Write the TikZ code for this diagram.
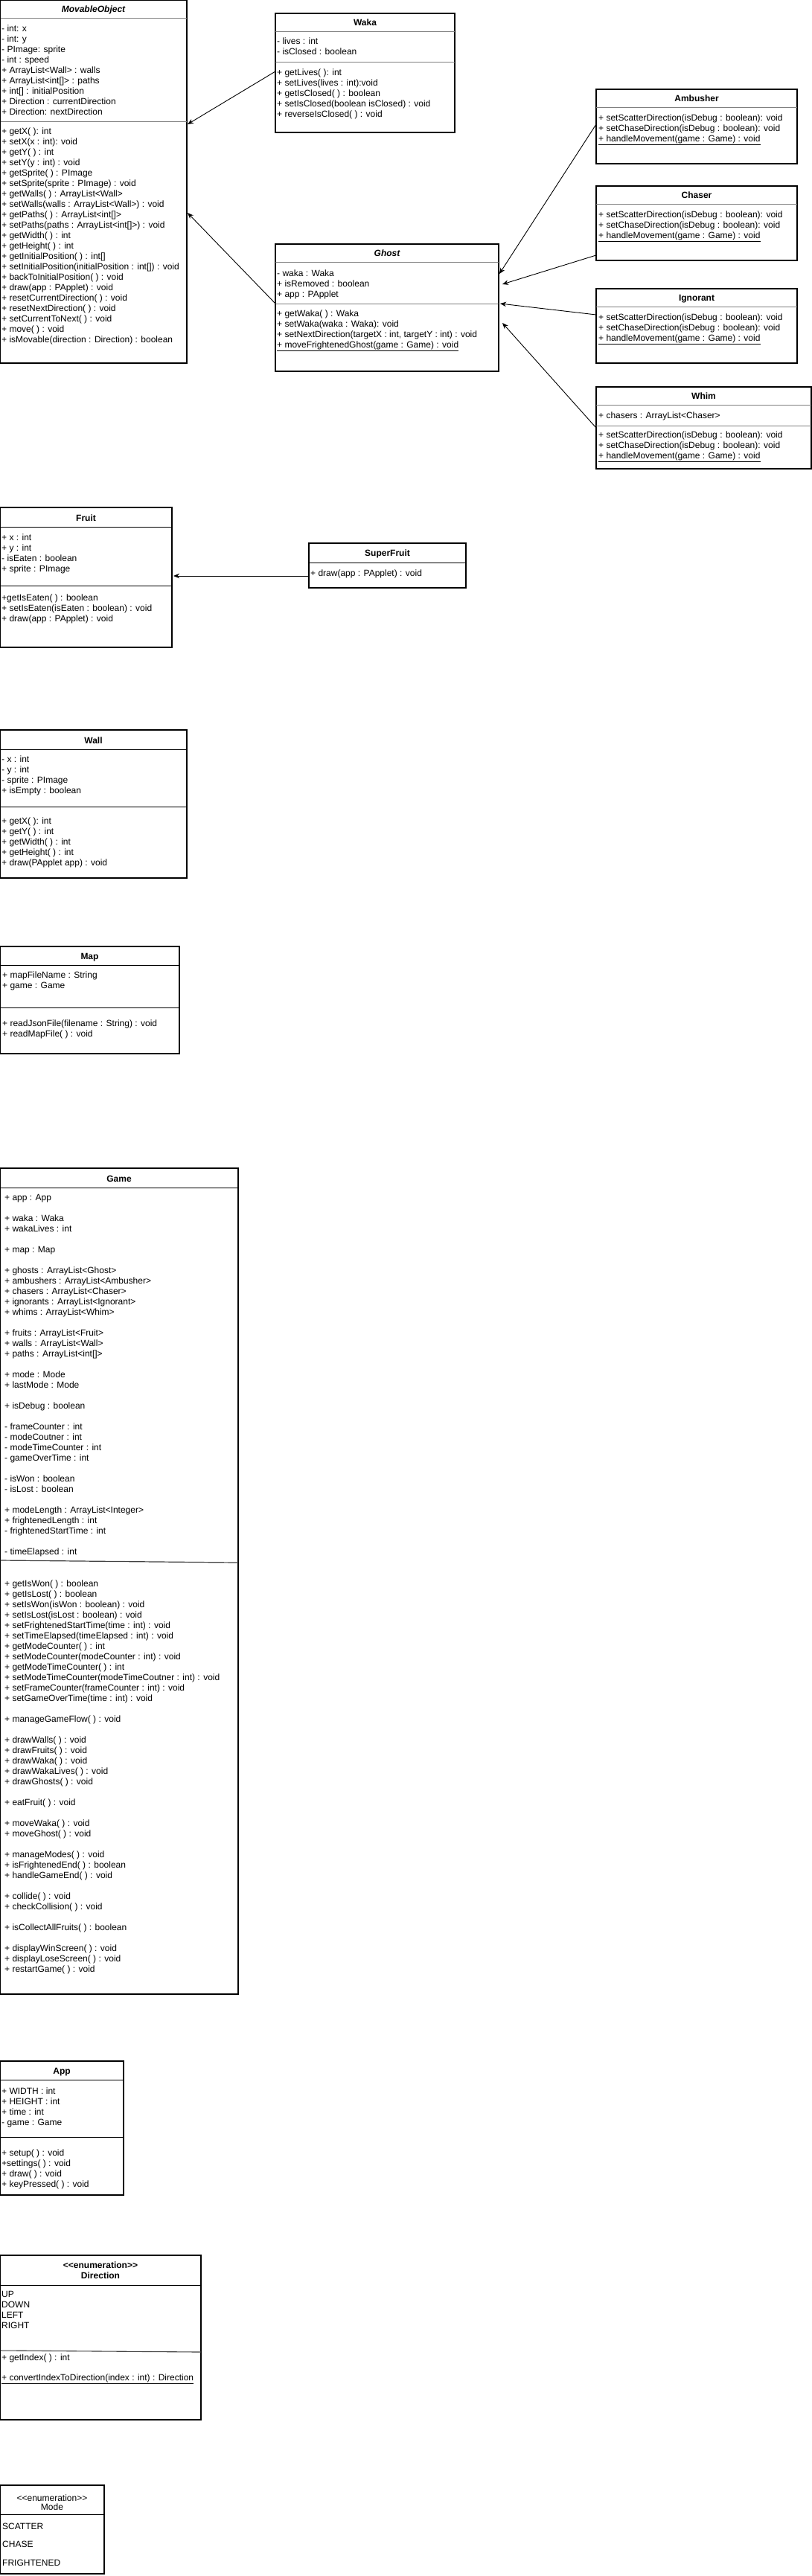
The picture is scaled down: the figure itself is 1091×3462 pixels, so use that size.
\documentclass[tikz,border=0pt]{standalone}
\usepackage{fontspec}
\setmainfont{Liberation Sans}
\usetikzlibrary{arrows.meta}
\newcommand\lnstrut{\rule{0pt}{11pt}}
\tikzset{
 cbox/.style={draw=black, line width=1.1pt, fill=white, anchor=north west, inner sep=0pt, outer sep=0pt},
 ttl/.style={anchor=base, inner sep=0pt, font=\fontsize{12}{14}\selectfont\upshape\bfseries},
 ttli/.style={anchor=base, inner sep=0pt, font=\fontsize{12}{14}\selectfont\bfseries\itshape},
 ttlr/.style={anchor=base, inner sep=0pt, font=\fontsize{12}{14}\selectfont\upshape\mdseries},
 txt/.style={anchor=north west, inner sep=0pt, align=left, font=\fontsize{12}{14}\selectfont\upshape\mdseries},
 divg/.style={draw=black!50, line width=1pt},
 divk/.style={draw=black, line width=1pt},
 arr/.style={draw=black, line width=0.9pt, -{Stealth[length=8pt,width=6.5pt]}},
}
\begin{document}
\begin{tikzpicture}[x=1pt,y=-1pt]
\fill[white] (0,0) rectangle (1091,3462);
\useasboundingbox (0,0) rectangle (1091,3462);

% ---------------- MovableObject
\node[cbox, minimum width=250.3pt, minimum height=487.3pt] (movable) at (0.7,0.7) {};
\draw[divg] (0.7,24) -- (251,24);
\draw[divg] (0.7,163) -- (251,163);
\node[ttli] (movable-t) at (125.5,16) {MovableObject};
\node[txt] (movable-a) at (2,31) {\lnstrut- int: x\\- int: y\\- PImage: sprite\\- int : speed\\+ ArrayList<Wall> : walls\\+ ArrayList<int[]> : paths\\+ int[] : initialPosition\\+ Direction : currentDirection\\+ Direction: nextDirection};
\node[txt] (movable-m) at (2,169) {\lnstrut+ getX( ): int\\+ setX(x : int): void\\+ getY( ) : int\\+ setY(y : int) : void\\+ getSprite( ) : PImage\\+ setSprite(sprite : PImage) : void\\+ getWalls( ) : ArrayList<Wall>\\+ setWalls(walls : ArrayList<Wall>) : void\\+ getPaths( ) : ArrayList<int[]>\\+ setPaths(paths : ArrayList<int[]>) : void\\+ getWidth( ) : int\\+ getHeight( ) : int\\+ getInitialPosition( ) : int[]\\+ setInitialPosition(initialPosition : int[]) : void\\+ backToInitialPosition( ) : void\\+ draw(app : PApplet) : void\\+ resetCurrentDirection( ) : void\\+ resetNextDirection( ) : void\\+ setCurrentToNext( ) : void\\+ move( ) : void\\+ isMovable(direction : Direction) : boolean};

% ---------------- Waka
\node[cbox, minimum width=241pt, minimum height=160pt] (waka) at (370,18) {};
\draw[divg] (370,42) -- (611,42);
\draw[divg] (370,83) -- (611,83);
\node[ttl] (waka-t) at (490.5,34) {Waka};
\node[txt] (waka-a) at (372,48) {\lnstrut- lives : int\\- isClosed : boolean};
\node[txt] (waka-m) at (372,90) {\lnstrut+ getLives( ): int\\+ setLives(lives : int):void\\+ getIsClosed( ) : boolean\\+ setIsClosed(boolean isClosed) : void\\+ reverseIsClosed( ) : void};

% ---------------- Ghost
\node[cbox, minimum width=300pt, minimum height=171pt] (ghost) at (370,328) {};
\draw[divg] (370,352) -- (670,352);
\draw[divg] (370,408) -- (670,408);
\node[ttli] (ghost-t) at (520,344) {Ghost};
\node[txt] (ghost-a) at (372,360) {\lnstrut- waka : Waka\\+ isRemoved : boolean\\+ app : PApplet};
\node[txt] (ghost-m) at (372,414) {\lnstrut+ getWaka( ) : Waka\\+ setWaka(waka : Waka): void\\+ setNextDirection(targetX : int, targetY : int) : void\\\underline{+ moveFrightenedGhost(game : Game) : void}};

% ---------------- Ambusher
\node[cbox, minimum width=270pt, minimum height=100pt] (amb) at (801,120) {};
\draw[divg] (801,144) -- (1071,144);
\node[ttl] (amb-t) at (936,136) {Ambusher};
\node[txt] (amb-m) at (804,151) {\lnstrut+ setScatterDirection(isDebug : boolean): void\\+ setChaseDirection(isDebug : boolean): void\\\underline{+ handleMovement(game : Game) : void}};

% ---------------- Chaser
\node[cbox, minimum width=270pt, minimum height=100pt] (chaser) at (801,250) {};
\draw[divg] (801,274) -- (1071,274);
\node[ttl] (chaser-t) at (936,266) {Chaser};
\node[txt] (chaser-m) at (804,281) {\lnstrut+ setScatterDirection(isDebug : boolean): void\\+ setChaseDirection(isDebug : boolean): void\\\underline{+ handleMovement(game : Game) : void}};

% ---------------- Ignorant
\node[cbox, minimum width=270pt, minimum height=100pt] (ign) at (801,388) {};
\draw[divg] (801,412) -- (1071,412);
\node[ttl] (ign-t) at (936,404) {Ignorant};
\node[txt] (ign-m) at (804,419) {\lnstrut+ setScatterDirection(isDebug : boolean): void\\+ setChaseDirection(isDebug : boolean): void\\\underline{+ handleMovement(game : Game) : void}};

% ---------------- Whim
\node[cbox, minimum width=289pt, minimum height=110pt] (whim) at (801,520) {};
\draw[divg] (801,544) -- (1090,544);
\draw[divg] (801,572) -- (1090,572);
\node[ttl] (whim-t) at (945.5,536) {Whim};
\node[txt] (whim-a) at (804,551) {\lnstrut+ chasers : ArrayList<Chaser>};
\node[txt] (whim-m) at (804,577) {\lnstrut+ setScatterDirection(isDebug : boolean): void\\+ setChaseDirection(isDebug : boolean): void\\\underline{+ handleMovement(game : Game) : void}};

% ---------------- Fruit
\node[cbox, minimum width=230.3pt, minimum height=188pt] (fruit) at (0.7,682) {};
\draw[divk] (0.7,708) -- (231,708);
\draw[divk] (0.7,787) -- (231,787);
\node[ttl] (fruit-t) at (115.5,700) {Fruit};
\node[txt] (fruit-a) at (2,715) {\lnstrut+ x : int\\+ y : int\\- isEaten : boolean\\+ sprite : PImage};
\node[txt] (fruit-m) at (2,796) {\lnstrut+getIsEaten( ) : boolean\\+ setIsEaten(isEaten : boolean) : void\\+ draw(app : PApplet) : void};

% ---------------- SuperFruit
\node[cbox, minimum width=211pt, minimum height=60pt] (super) at (415,730) {};
\draw[divk] (415,756) -- (626,756);
\node[ttl] (super-t) at (520.5,747) {SuperFruit};
\node[txt] (super-m) at (417,763) {\lnstrut+ draw(app : PApplet) : void};

% ---------------- Wall
\node[cbox, minimum width=250.3pt, minimum height=199pt] (wall) at (0.7,981) {};
\draw[divk] (0.7,1007) -- (251,1007);
\node[ttl] (wall-t) at (125.5,999) {Wall};
\draw[divk] (0.7,1084) -- (251,1084);
\node[txt] (wall-a) at (2,1013) {\lnstrut- x : int\\- y : int\\- sprite : PImage\\+ isEmpty : boolean};
\node[txt] (wall-m) at (2,1096) {\lnstrut+ getX( ): int\\+ getY( ) : int\\+ getWidth( ) : int\\+ getHeight( ) : int\\+ draw(PApplet app) : void};

% ---------------- Map
\node[cbox, minimum width=240.3pt, minimum height=144pt] (map) at (0.7,1272) {};
\draw[divk] (0.7,1297) -- (241,1297);
\draw[divk] (0.7,1354) -- (241,1354);
\node[ttl] (map-t) at (120.5,1289) {Map};
\node[txt] (map-a) at (3,1303) {\lnstrut+ mapFileName :  String\\+ game : Game};
\node[txt] (map-m) at (3,1368) {\lnstrut+ readJsonFile(filename : String) :  void\\+ readMapFile( ) : void};

% ---------------- Game
\node[cbox, minimum width=319.3pt, minimum height=1110pt] (game) at (0.7,1570) {};
\draw[divk] (0.7,1596) -- (320,1596);
\draw[draw=black!75, line width=1.2pt] (0.7,2097) -- (320,2100);
\node[ttl] (game-t) at (160,1588) {Game};
\node[txt] (game-a) at (6,1602) {\lnstrut+ app : App\\[14pt]+ waka : Waka\\+ wakaLives : int\\[14pt]+ map : Map\\[14pt]+ ghosts : ArrayList<Ghost>\\+ ambushers : ArrayList<Ambusher>\\+ chasers : ArrayList<Chaser>\\+ ignorants : ArrayList<Ignorant>\\+ whims : ArrayList<Whim>\\[14pt]+ fruits : ArrayList<Fruit>\\+ walls : ArrayList<Wall>\\+ paths : ArrayList<int[]>\\[14pt]+ mode : Mode\\+ lastMode : Mode\\[14pt]+ isDebug : boolean\\[14pt]- frameCounter : int\\- modeCoutner : int\\- modeTimeCounter : int\\- gameOverTime : int\\[14pt]- isWon : boolean\\- isLost : boolean\\[14pt]+ modeLength : ArrayList<Integer>\\+ frightenedLength : int\\- frightenedStartTime : int\\[14pt]- timeElapsed : int};
\node[txt] (game-m) at (6,2121) {\lnstrut+ getIsWon( ) :  boolean\\+ getIsLost( ) : boolean\\+ setIsWon(isWon : boolean) : void\\+ setIsLost(isLost : boolean) : void\\+ setFrightenedStartTime(time : int) : void\\+ setTimeElapsed(timeElapsed : int) : void\\+ getModeCounter( ) : int\\+ setModeCounter(modeCounter : int) : void\\+ getModeTimeCounter( ) : int\\+ setModeTimeCounter(modeTimeCoutner : int) : void\\+ setFrameCounter(frameCounter : int) : void\\+ setGameOverTime(time : int) : void\\[14pt]+ manageGameFlow( ) : void\\[14pt]+ drawWalls( ) : void\\+ drawFruits( ) : void\\+ drawWaka( ) : void\\+ drawWakaLives( ) : void\\+ drawGhosts( ) : void\\[14pt]+ eatFruit( ) : void\\[14pt]+ moveWaka( ) : void\\+ moveGhost( ) : void\\[14pt]+ manageModes( ) : void\\+ isFrightenedEnd( ) : boolean\\+ handleGameEnd( ) : void\\[14pt]+ collide( ) : void\\+ checkCollision( ) : void\\[14pt]+ isCollectAllFruits( ) : boolean\\[14pt]+ displayWinScreen( ) : void\\+ displayLoseScreen( ) :  void\\+ restartGame( ) : void};

% ---------------- App
\node[cbox, minimum width=165.3pt, minimum height=180pt] (app) at (0.7,2770) {};
\draw[divk] (0.7,2795) -- (166,2795);
\draw[divk] (0.7,2872) -- (166,2872);
\node[ttl] (app-t) at (83,2787) {App};
\node[txt] (app-a) at (2,2803) {\lnstrut+ WIDTH :  int\\+ HEIGHT : int\\+ time : int\\- game : Game};
\node[txt] (app-m) at (2,2886) {\lnstrut+ setup( ) : void\\+settings( ) : void\\+ draw( ) : void\\+ keyPressed( ) : void};

% ---------------- Direction
\node[cbox, minimum width=269.3pt, minimum height=221pt] (dir) at (0.7,3031) {};
\draw[divk] (0.7,3071) -- (270,3071);
\draw[draw=black!75, line width=1.1pt] (0.7,3159) -- (270,3161);
\node[ttl] (dir-t1) at (135,3048) {<{}<enumeration>{}>};
\node[ttl] (dir-t2) at (135,3062) {Direction};
\node[txt] (dir-a) at (2,3076) {\lnstrut UP\\DOWN\\LEFT\\RIGHT};
\node[txt] (dir-m1) at (2,3161) {\lnstrut+ getIndex( ) :  int};
\node[txt] (dir-m2) at (2,3188) {\lnstrut\underline{+ convertIndexToDirection(index : int) : Direction}};

% ---------------- Mode
\node[cbox, minimum width=139.3pt, minimum height=119pt] (mode) at (0.7,3340) {};
\draw[divk] (0.7,3379) -- (140,3379);
\node[ttlr] (mode-t1) at (70,3361) {<{}<enumeration>{}>};
\node[ttlr] (mode-t2) at (70,3373) {Mode};
\node[txt] (mode-a) at (3,3388) {\lnstrut SCATTER\\[10.5pt]CHASE\\[10.5pt]FRIGHTENED};

% ---------------- connector end points
\coordinate (wk-out) at (370,96);
\coordinate (mo-in1) at (252,167);
\coordinate (gh-out) at (370,408);
\coordinate (mo-in2) at (252,286);
\coordinate (amb-out) at (801,167);
\coordinate (gh-in1) at (671,368);
\coordinate (ch-out) at (801,343);
\coordinate (gh-in2) at (675,382);
\coordinate (ig-out) at (801,423);
\coordinate (gh-in3) at (672,408);
\coordinate (wh-out) at (801,575);
\coordinate (gh-in4) at (675,434);
\coordinate (sf-out) at (415,774);
\coordinate (fr-in) at (233,774);

\draw[arr] (wk-out) -- (mo-in1);
\draw[arr] (gh-out) -- (mo-in2);
\draw[arr] (amb-out) -- (gh-in1);
\draw[arr] (ch-out) -- (gh-in2);
\draw[arr] (ig-out) -- (gh-in3);
\draw[arr] (wh-out) -- (gh-in4);
\draw[arr] (sf-out) -- (fr-in);
\end{tikzpicture}
\end{document}
